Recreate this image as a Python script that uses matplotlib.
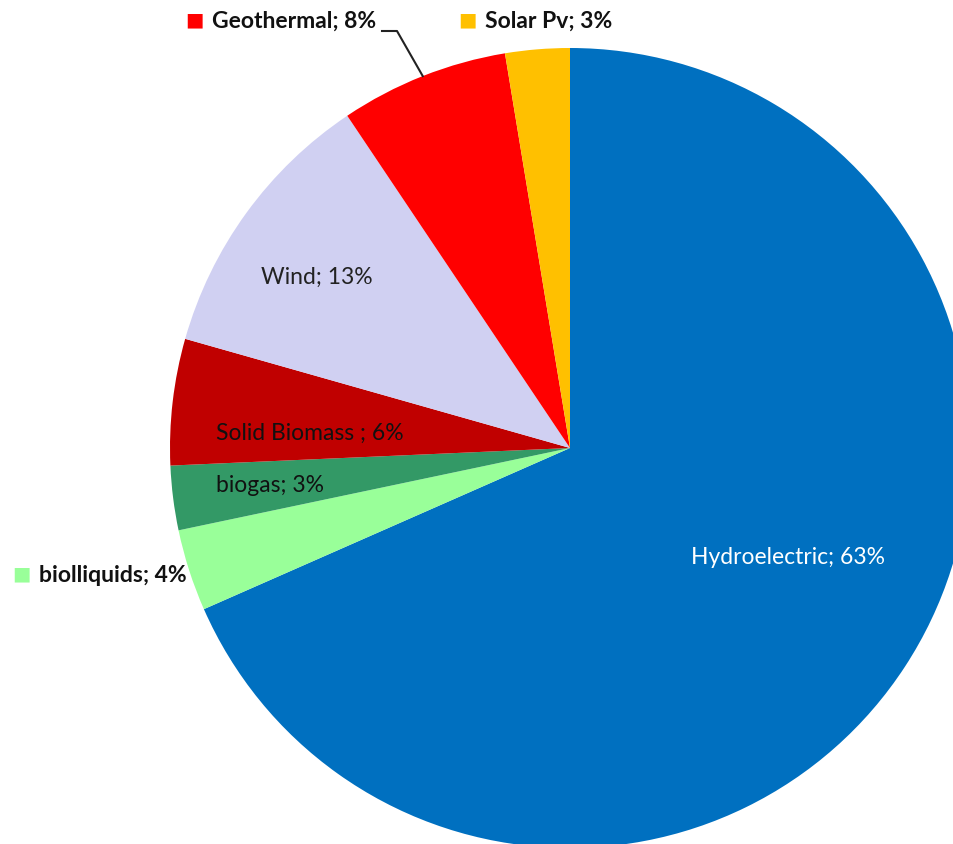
import numpy as np
import matplotlib.pyplot as plt

sources = ['Hydroelectric', 'biolliquids', 'biogas', 'Solid Biomass ', 'Wind', 'Geothermal', 'Solar Pv']
shares = [68.4, 3.3, 2.6, 5.1, 11.2, 6.8, 2.6]
label_pct = [63, 4, 3, 6, 13, 8, 3]
colors = ['#0070C0', '#99FF99', '#339966', '#C00000', '#D0D0F2', '#FF0000', '#FFC000']

W, H = 954, 844
fig = plt.figure(figsize=(W / 100, H / 100), dpi=100)
ax = fig.add_axes([0, 0, 1, 1])

cx, cy, r = 570, H - 448, 400
wedges, _ = ax.pie(shares, colors=colors, startangle=90, counterclock=False,
                   center=(cx, cy), radius=r, frame=True,
                   wedgeprops=dict(linewidth=0))
ax.set_xlim(0, W)
ax.set_ylim(0, H)
ax.axis('off')

font = 'Lato'
fs = 16.5
lab = [f'{s}; {p}%' for s, p in zip(sources, label_pct)]

def Y(y):
    return H - y

# labels inside the pie
ax.text(788, Y(558), lab[0], color='white', fontsize=fs, family=font,
        ha='center', va='center')
ax.text(317, Y(277), lab[4], color='#222222', fontsize=fs, family=font,
        ha='center', va='center')
ax.text(216, Y(433), lab[3], color='#111111', fontsize=fs, family=font,
        ha='left', va='center')
ax.text(216, Y(486), lab[2], color='#111111', fontsize=fs, family=font,
        ha='left', va='center')

# labels outside with colour keys
outside = [(5, 185, 20), (6, 458, 20), (1, 12, 574)]
for i, x, y in outside:
    ax.text(x, Y(y), '\u25A0', color=colors[i], fontsize=14, ha='left',
            va='center', family='DejaVu Sans')
    ax.text(x + 27, Y(y + 1), lab[i], color='#111111', fontsize=fs, family=font,
            fontweight='bold', ha='left', va='center')

# leader line for Geothermal
w = wedges[5]
mid = np.deg2rad((w.theta1 + w.theta2) / 2)
px, py = cx + r * np.cos(mid), cy + r * np.sin(mid)
ax.plot([382, 397, px], [Y(31), Y(31), py], color='#222222', lw=1.5)

fig.savefig('out.png', dpi=100)
